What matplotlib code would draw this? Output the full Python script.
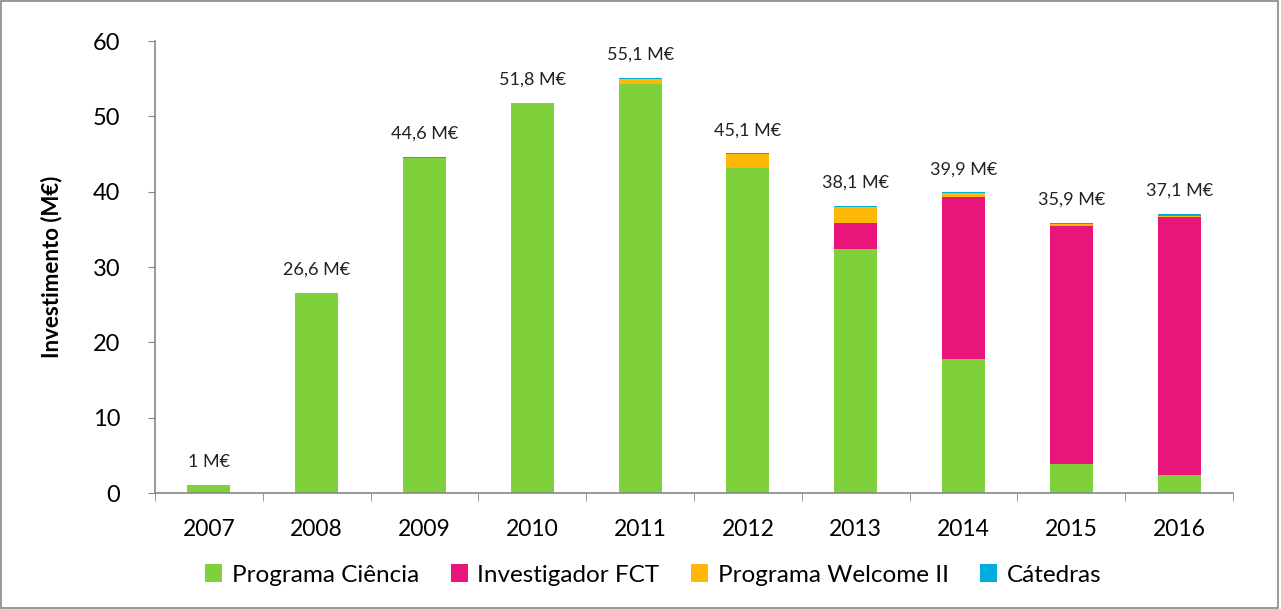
import matplotlib
matplotlib.use("Agg")
import matplotlib.pyplot as plt
import numpy as np
from matplotlib.patches import Rectangle

plt.rcParams['font.family'] = ['Lato', 'DejaVu Sans']

years = ['2007', '2008', '2009', '2010', '2011', '2012', '2013', '2014', '2015', '2016']
ciencia = [1.0, 26.6, 44.5, 51.8, 54.3, 43.1, 32.4, 17.8, 3.85, 2.4]
investigador = [0, 0, 0, 0, 0, 0, 3.5, 21.5, 31.6, 34.3]
welcome = [0, 0, 0, 0, 0.65, 1.9, 2.0, 0.5, 0.3, 0.05]
catedras = [0, 0, 0.1, 0, 0.15, 0.1, 0.2, 0.1, 0.15, 0.35]
totals = ['1 M€', '26,6 M€', '44,6 M€', '51,8 M€', '55,1 M€', '45,1 M€', '38,1 M€', '39,9 M€', '35,9 M€', '37,1 M€']
series_names = ['Programa Ciência', 'Investigador FCT', 'Programa Welcome II', 'Cátedras']
colors = ['#7FD13B', '#EA157A', '#FEB80A', '#00ADDC']

fig = plt.figure(figsize=(12.81, 6.09), dpi=100)
ax = fig.add_axes([155/1281, 1 - 493/609, (1233-155)/1281, (493-41)/609])

x = np.arange(len(years))
bottom = np.zeros(len(years))
for vals, name, c in zip([ciencia, investigador, welcome, catedras], series_names, colors):
    v = np.array(vals)
    ax.bar(x, v, bottom=bottom, width=0.40, color=c, label=name, edgecolor='none')
    bottom += v

for xi, tot, lab in zip(x, bottom, totals):
    ax.text(xi, tot + 2.0, lab, ha='center', va='bottom', fontsize=13, color='#222222')

ax.set_xlim(-0.5, len(years) - 0.5)
ax.set_ylim(0, 60)
ax.set_yticks(range(0, 61, 10))
ax.tick_params(axis='y', labelsize=17, length=5, color='#888888', direction='out', pad=20)
ax.set_xticks(x)
ax.set_xticklabels(years)
ax.set_xticks(np.arange(-0.5, len(years), 1), minor=True)
ax.tick_params(axis='x', which='major', length=0, labelsize=16.5, pad=19)
ax.tick_params(axis='x', which='minor', length=6, color='#888888', direction='out')
for s in ['top', 'right']:
    ax.spines[s].set_visible(False)
for s in ['left', 'bottom']:
    ax.spines[s].set_color('#888888')
    ax.spines[s].set_linewidth(1.2)
ax.set_ylabel('Investimento (M€)', fontsize=16, fontweight='bold', labelpad=22)

fig.legend(loc='center', bbox_to_anchor=(0.51, 1 - 575/609), ncol=4, frameon=False,
           fontsize=17.5, handlelength=0.7, handleheight=0.7, handletextpad=0.4, columnspacing=1.3)

fig.add_artist(Rectangle((0.001, 0.002), 0.997, 0.996, transform=fig.transFigure,
                         fill=False, edgecolor='#888888', linewidth=1.2))

fig.savefig('out.png', dpi=100)
